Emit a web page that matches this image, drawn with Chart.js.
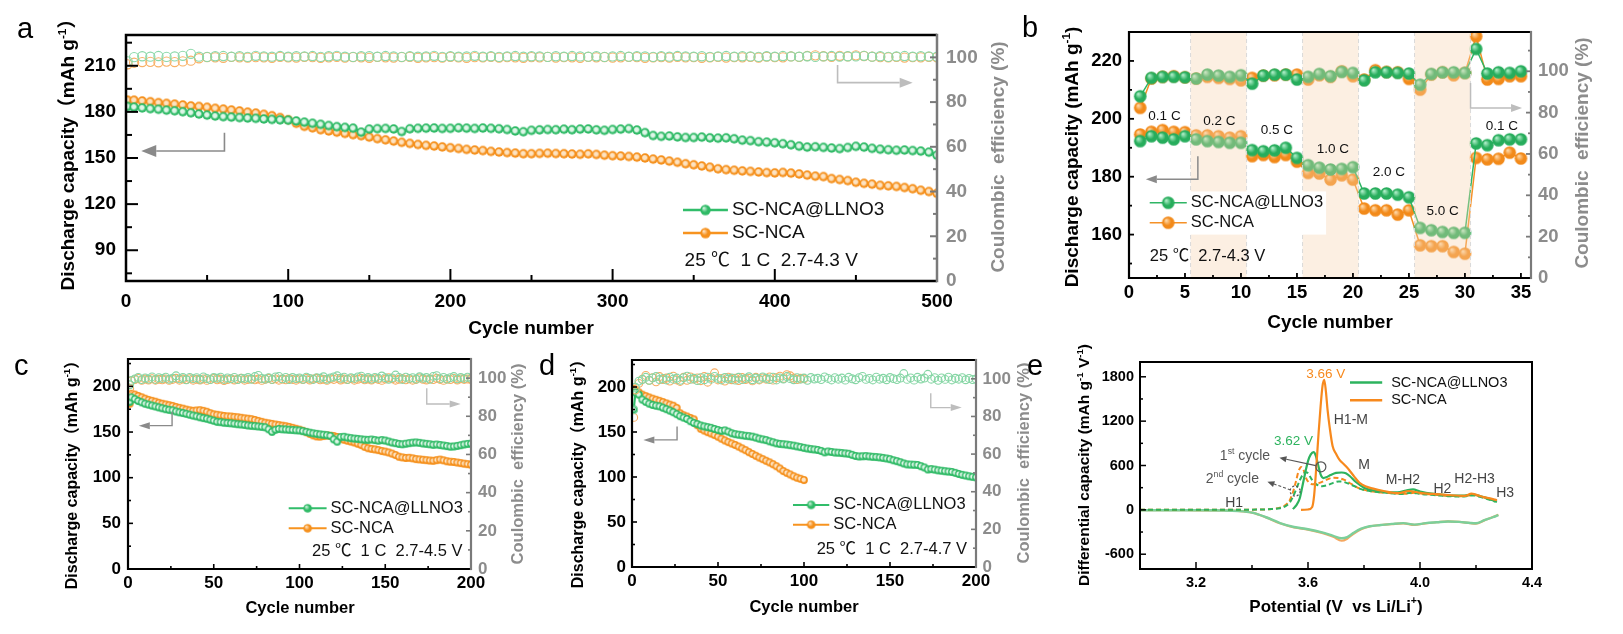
<!DOCTYPE html>
<html><head><meta charset="utf-8">
<script src="https://cdn.jsdelivr.net/npm/chart.js@4.4.1/dist/chart.umd.min.js"></script>
<style>
html,body{margin:0;padding:0;background:#fff;}
#wrap{position:relative;width:1623px;height:634px;overflow:hidden;background:#fff;}
canvas{position:absolute;}
</style></head><body><div id="wrap">
<canvas id="ca" width="1010" height="350" style="left:0px;top:0px"></canvas>
<canvas id="cb" width="588" height="350" style="left:1035px;top:0px"></canvas>
<canvas id="cc" width="540" height="294" style="left:0px;top:340px"></canvas>
<canvas id="cd" width="500" height="294" style="left:540px;top:340px"></canvas>
<canvas id="ce" width="583" height="294" style="left:1040px;top:340px"></canvas>
<canvas id="letters" width="1623" height="634" style="left:0px;top:0px;pointer-events:none"></canvas>
</div>
<script>
// ================= DATA =================
// ---- panel a : 500 cycles, 1 C, 2.7-4.3 V (sampled every 5 cycles) ----
const A_CYCLES = [1].concat(Array.from({length:100}, (_, i) => (i + 1) * 5));
const A_CAP_LLNO3 = [
183.5,183.1,182.6,182.1,181.7,181.1,180.7,180.1,179.4,178.6,
177.9,177.3,176.9,176.6,176.3,176.0,175.8,175.4,175.1,174.8,
174.6,174.1,173.3,172.6,171.9,171.1,170.4,169.9,169.4,166.8,
168.8,169.1,169.2,168.9,167.2,169.0,169.3,169.4,169.5,169.2,
169.3,169.6,169.4,169.2,169.5,169.3,169.0,168.5,167.6,167.1,
168.0,168.3,168.5,168.4,168.7,168.4,168.8,168.9,168.3,168.0,
168.5,168.8,169.1,168.2,166.5,164.6,164.1,164.3,163.7,163.3,
163.3,163.6,163.1,162.9,163.1,162.5,161.6,161.3,160.6,160.3,
159.9,159.3,158.6,157.7,157.1,157.3,156.9,156.5,156.1,156.8,
157.6,157.1,156.3,155.7,155.4,155.0,155.2,154.8,154.5,153.8,
151.8];
const A_CAP_NCA = [
187.6,187.6,187.1,186.6,186.0,185.5,185.0,184.5,183.9,183.5,
183.0,182.3,181.8,181.2,180.6,179.8,179.2,178.4,177.5,176.3,
174.9,172.6,170.6,169.6,168.4,167.6,166.8,166.0,165.2,164.5,
163.6,162.6,161.8,161.0,160.2,159.5,158.8,158.2,157.8,157.2,
156.7,156.2,155.6,155.2,154.8,154.3,153.9,153.5,153.2,152.8,
152.8,153.0,153.1,152.9,152.8,152.6,152.4,152.7,152.3,151.8,
151.5,151.3,151.0,150.6,150.0,149.3,148.7,148.0,147.2,146.3,
145.6,144.8,144.0,143.0,142.4,142.0,141.6,141.3,140.9,140.5,
140.3,140.6,140.2,139.6,138.9,138.2,137.9,136.6,136.0,135.3,
134.2,133.5,133.0,132.2,131.9,131.5,130.8,130.0,129.0,128.2,
127.0];
const A_CE_LLNO3 = [
98.2,100.1,100.5,100.3,100.6,100.2,100.4,100.7,101.6,100.3,
100.2,100.5,100.6,100.3,100.5,100.2,100.7,100.4,100.3,100.6,
100.3,100.5,100.4,100.6,100.2,100.5,100.7,100.3,100.2,100.5,
100.5,100.3,100.6,100.4,100.2,100.5,100.3,100.4,100.7,100.2,
100.5,100.3,100.4,100.7,100.3,100.5,100.2,100.4,100.6,100.3,
100.5,100.4,100.2,100.5,100.3,100.6,100.4,100.3,100.5,100.2,
100.4,100.6,100.3,100.5,100.4,100.2,100.5,100.3,100.6,100.4,
100.3,100.5,100.2,100.4,100.6,100.3,100.5,100.4,100.2,100.5,
100.3,100.6,100.4,100.3,100.5,100.2,100.4,100.6,100.3,100.5,
100.4,100.7,100.3,100.5,100.2,100.4,100.6,100.3,100.5,100.4,
100.3];
const A_CE_NCA = [
96.9,97.6,97.9,98.0,97.8,98.1,97.9,98.2,98.5,99.6,
100.1,100.0,99.8,100.2,100.0,99.9,100.1,100.0,99.8,100.2,
100.0,99.9,100.2,100.1,99.8,100.0,100.2,99.9,100.1,100.0,
99.8,100.2,100.0,99.9,100.1,100.2,99.8,100.0,100.1,99.9,
100.2,100.0,99.8,100.1,100.0,100.2,99.9,100.1,100.0,99.8,
100.1,100.0,100.2,99.9,100.1,100.0,99.8,100.2,100.0,100.1,
99.9,100.0,100.2,100.1,99.8,100.0,100.1,99.9,100.2,100.0,
100.1,99.8,100.0,100.2,99.9,100.1,100.0,100.2,99.9,100.3,
100.1,100.0,100.4,100.2,100.6,100.9,100.5,100.2,100.7,100.4,
100.9,100.6,100.3,100.1,100.0,100.2,99.9,100.1,100.0,100.2,
100.0];
const A_XTICKS = [0,100,200,300,400,500];
const A_YTICKS = [90,120,150,180,210];
const A_Y2TICKS = [0,20,40,60,80,100];

// ---- panel b : rate capability ----
const B_CYCLES = Array.from({length:35}, (_, i) => i + 1);
const B_CAP_LLNO3 = [192.3,194.0,193.5,192.9,194.0,192.9,192.3,192.0,191.7,191.7,189.2,188.8,189.1,190.0,186.5,184.0,183.1,182.5,182.7,183.3,174.2,174.2,174.2,173.8,172.9,162.3,161.5,160.9,160.6,160.6,191.5,190.9,192.6,192.9,192.9];
const B_CAP_NCA   = [194.6,195.5,196.1,195.5,195.4,194.3,194.3,194.0,193.5,194.0,187.1,187.5,186.8,187.5,185.2,181.3,181.1,179.0,180.5,179.0,169.0,168.4,168.4,166.9,168.4,156.3,156.0,156.0,154.0,153.4,186.5,186.0,186.2,188.3,186.3];
const B_CE_LLNO3  = [87.9,96.8,97.3,97.3,97.1,96.5,98.4,97.9,97.3,98.1,94.0,97.9,98.4,98.4,96.0,97.3,98.7,97.6,99.7,99.2,95.6,99.5,99.5,99.2,98.9,93.5,98.7,99.5,99.5,99.2,110.8,98.9,99.5,99.2,100.0];
const B_CE_NCA    = [82.3,96.5,97.3,97.6,97.1,96.5,97.3,96.8,96.3,95.6,96.8,97.9,98.1,98.4,98.4,96.0,98.1,97.3,100.0,97.6,96.0,100.5,99.7,99.5,96.3,91.1,98.4,99.5,98.1,99.2,116.9,96.0,96.3,97.6,97.6];
const B_RATES = ['0.1 C','0.2 C','0.5 C','1.0 C','2.0 C','5.0 C','0.1 C'];
const B_SHADE = [[5.5,10.5],[15.5,20.5],[25.5,30.5]];
const B_XTICKS = [0,5,10,15,20,25,30,35];
const B_YTICKS = [160,180,200,220];
const B_Y2TICKS = [0,20,40,60,80,100];

// ---- panel c : 200 cycles, 2.7-4.5 V (every 2 cycles) ----
const C_CYCLES = [1].concat(Array.from({length:100}, (_, i) => (i + 1) * 2));
const C_CAP_LLNO3 = [
183,188,186,184,182.5,181,180,179,178,177,
176,175,174.3,173.8,172.5,171.6,170.8,170,169,168,
167.2,166.2,165.3,164.6,163.5,162.4,161.2,160.8,160.2,159.9,
159.6,159.1,158.6,158.3,157.8,157.2,156.8,156.5,156.1,155.7,
155.2,153.0,150.2,152.5,153.4,153.0,152.8,152.5,152.2,151.9,
151.7,151.0,150.2,149.3,148.6,148.0,147.4,147.0,146.5,145.8,
142.0,139.5,144.5,144.8,143.9,143.3,142.8,142.5,142.0,141.6,
141.4,141.8,141.2,140.6,141.2,140.7,139.6,138.5,137.8,137.0,
136.6,137.2,137.8,138.4,138.6,138.2,137.5,137.1,136.6,136.0,
136.3,135.8,135.2,134.6,134.0,134.2,134.8,135.6,136.4,137.0,
137.2];
const C_CAP_NCA = [
181,192,191,189.5,188,186.5,185.2,184.2,183.2,182,
181,180.2,179.4,178.6,177.4,176.5,175.6,174.6,173.8,173.2,
173.6,173.9,173.2,172.2,170.6,169.4,168.9,168.2,167.6,167.2,
167.0,166.6,166.2,165.6,165.0,164.6,164.1,163.2,162.2,161.2,
160.2,159.5,158.9,158.2,157.6,157.0,156.4,155.6,154.6,153.6,
152.6,151.4,149.8,148.0,146.4,145.2,145.0,145.6,146.2,146.0,
145.6,144.6,143.0,141.6,140.5,139.6,138.6,137.2,135.8,133.8,
132.3,131.5,131.0,130.2,129.2,128.6,127.6,126.4,124.8,123.0,
122.2,121.6,121.8,121.2,120.4,120.0,119.6,119.2,118.8,118.5,
119.2,119.8,119.0,118.0,117.5,117.2,116.6,116.0,115.4,114.8,
114.3];
const C_CE_LLNO3 = [
96.5,98.8,99.6,100.4,99.2,100.1,99.5,100.6,99.3,100.2,
99.8,100.5,99.4,100.0,101.2,99.6,100.3,99.1,100.4,99.7,
100.2,99.4,100.6,99.8,99.2,100.3,99.9,100.5,99.3,100.1,
99.6,100.4,99.2,100.0,99.7,100.3,99.4,100.8,101.4,99.8,
99.5,100.2,99.3,100.6,100.9,99.6,100.4,99.2,100.3,99.7,
100.1,99.4,100.5,99.8,99.3,100.2,99.9,100.7,99.4,100.1,
100.6,101.2,99.9,100.5,99.3,100.2,99.8,100.6,101.0,99.6,
100.3,99.5,100.4,99.9,101.1,100.2,99.4,100.1,101.6,100.4,
99.3,100.5,99.8,100.2,99.5,100.7,99.9,100.3,99.4,100.9,
101.3,99.7,100.4,99.5,100.2,100.8,99.6,100.3,99.8,100.5,
99.9];
const C_CE_NCA = [
94.5,98.5,99.2,99.8,98.8,99.5,99.0,99.7,98.9,99.4,
99.1,99.6,98.8,99.3,99.9,98.9,99.5,99.2,99.7,98.9,
99.4,99.0,99.6,98.8,99.3,99.8,99.1,99.5,98.7,99.2,
99.7,99.0,99.4,99.9,98.9,99.3,99.6,99.1,99.5,98.8,
99.4,99.9,99.2,99.6,98.9,99.5,99.1,99.8,99.3,98.9,
99.6,99.2,99.8,99.0,99.5,99.9,99.1,99.4,98.8,99.6,
99.3,99.8,99.0,99.5,99.2,99.7,98.9,99.4,99.9,99.1,
99.5,99.0,99.7,99.3,98.8,99.5,100.2,99.6,98.9,99.4,
99.8,99.1,99.6,98.9,99.3,100.1,99.4,99.0,99.7,99.2,
99.9,99.3,98.8,99.5,99.2,99.8,99.0,99.6,99.3,99.5,
99.2];
const CD_XTICKS = [0,50,100,150,200];
const CD_YTICKS = [0,50,100,150,200];
const CD_Y2TICKS = [0,20,40,60,80,100];

// ---- panel d : 200 cycles, 2.7-4.7 V (every 2 cycles) ----
const D_CYCLES = [1].concat(Array.from({length:100}, (_, i) => (i + 1) * 2));
const D_CAP_LLNO3 = [
175,194,191.5,186,183.5,181.5,180,179.2,178.5,177,
175.4,173.8,172,169.8,167.6,166,164.5,162,160,158.8,
157.2,156.2,155.4,154.6,153.4,152.2,151.2,151.8,150.4,148.6,
147.6,147.0,146.4,145.8,145.4,144.8,143.8,142.6,141.8,141.0,
139.6,138.6,137.4,136.8,136.4,136.0,135.4,134.8,134.0,133.2,
132.4,131.6,131.0,130.6,130.0,129.0,127.4,128.4,127.8,127.2,
127.0,126.6,126.2,125.8,124.6,123.4,122.8,123.0,123.2,122.8,
122.4,122.2,121.8,121.2,120.6,119.8,118.6,117.6,116.4,115.0,
114.0,113.8,113.6,113.4,112.0,110.6,108.4,108.8,108.2,107.4,
107.0,106.4,106.0,105.6,104.6,103.4,102.4,101.6,100.8,100.2,
99.6];
const D_CAP_NCA = [
198,197,194,191.5,189.8,188.4,187,185.8,184.6,183.2,
181.8,180.4,179.2,176.8,170.8,168.6,167.2,165.6,164.0,157.6,
153.6,151.6,149.8,148.4,146.6,144.8,142.6,140.6,138.8,137.2,
135.6,133.8,131.8,129.8,127.6,125.6,123.6,121.6,119.8,118.0,
116.2,114.2,112.0,109.4,106.6,104.6,102.8,100.8,99.2,98.0,
96.6];
const D_CE_LLNO3 = [
83.5,95.5,98.8,99.6,100.8,99.2,100.5,101.2,99.6,100.2,
99.4,100.9,99.8,100.4,99.2,100.6,101.4,99.7,100.3,99.1,
100.6,99.5,100.9,99.8,101.3,100.2,99.4,100.7,99.9,100.4,
99.3,100.8,99.6,100.2,101.1,99.5,100.4,99.8,101.0,100.3,
99.6,100.9,99.4,100.5,99.9,101.2,100.1,99.5,100.6,99.8,
100.4,99.2,100.7,99.9,100.3,99.6,101.0,100.2,99.4,100.6,
99.8,100.4,99.3,100.8,100.0,99.5,100.6,101.3,99.7,100.2,
99.4,100.9,99.8,100.3,99.5,100.7,100.1,99.6,100.4,102.8,
99.7,100.5,99.3,100.8,99.9,100.4,102.4,99.8,100.6,99.2,
100.5,99.7,100.9,99.4,100.3,99.8,100.6,99.5,100.2,99.6,
99.9];
const D_CE_NCA = [
79.5,94.0,97.6,99.8,101.8,99.2,100.6,98.4,101.2,99.6,
100.4,98.8,101.4,99.4,98.6,100.8,99.2,101.0,99.8,100.5,
99.0,101.2,98.2,100.6,103.2,99.4,100.2,98.8,100.9,99.5,
100.3,99.1,100.7,99.6,100.2,98.9,100.8,99.4,100.5,99.8,
101.0,99.3,100.6,101.4,100.2,102.2,101.6,100.4,99.6,100.3,
100.0];

// ---- panel e : dQ/dV ----
const E_V_CH1_NCA = [3.575,3.600,3.615,3.622,3.630,3.638,3.645,3.652,3.658,3.664,3.670,3.678,3.688,3.700,3.712,3.730,3.747,3.765,3.783,3.805,3.830,3.870,3.924,3.960,4.000,4.043,4.100,4.161,4.184,4.220,4.250,4.275];
const E_Q_CH1_NCA = [0,5,40,200,600,1050,1400,1680,1760,1600,1350,1100,860,760,680,610,540,450,370,320,290,255,225,255,230,215,200,190,220,180,155,130];
const E_V_CH1_LLNO3 = [3.546,3.558,3.570,3.580,3.590,3.600,3.610,3.620,3.628,3.636,3.645,3.655,3.665,3.680,3.700,3.720,3.735,3.750,3.770,3.800,3.830,3.870,3.920,3.950,3.975,4.000,4.050,4.100,4.150,4.190,4.220,4.250,4.275];
const E_Q_CH1_LLNO3 = [10,60,150,320,500,660,750,780,730,610,480,430,440,470,500,505,495,455,380,300,265,245,238,262,278,248,215,196,192,208,180,145,108];
const E_V_CH2_NCA = [3.0,3.2,3.4,3.47,3.50,3.52,3.534,3.546,3.558,3.566,3.576,3.585,3.593,3.605,3.620,3.641,3.665,3.688,3.710,3.730,3.755,3.783,3.810,3.850,3.900,3.950,3.980,4.010,4.050,4.100,4.150,4.190,4.220,4.270];
const E_Q_CH2_NCA = [0,0,3,12,30,65,125,235,400,520,580,530,430,365,345,365,405,435,430,405,350,290,262,240,225,218,232,218,205,190,185,200,175,120];
const E_V_CH2_LLNO3 = [3.0,3.2,3.4,3.47,3.50,3.52,3.535,3.548,3.560,3.572,3.582,3.592,3.600,3.612,3.630,3.650,3.670,3.690,3.710,3.730,3.760,3.790,3.830,3.880,3.930,3.970,4.000,4.050,4.100,4.150,4.190,4.220,4.270];
const E_Q_CH2_LLNO3 = [0,0,3,10,22,50,100,190,300,410,480,510,495,420,345,320,335,365,385,375,330,280,250,230,215,232,215,200,185,180,195,170,110];
const E_V_DIS = [3.0,3.1,3.2,3.3,3.35,3.4,3.45,3.5,3.55,3.6,3.65,3.69,3.72,3.74,3.76,3.79,3.82,3.86,3.9,3.94,3.98,4.02,4.06,4.1,4.14,4.18,4.2,4.23,4.26,4.28];
const E_Q_DIS_LLNO3 = [-5,-5,-6,-8,-15,-38,-100,-178,-232,-262,-305,-352,-385,-368,-318,-255,-222,-205,-190,-180,-200,-180,-168,-157,-163,-178,-182,-140,-100,-70];
const E_Q_DIS_NCA = [-5,-5,-6,-8,-15,-38,-102,-182,-238,-268,-312,-365,-418,-390,-330,-262,-225,-205,-192,-182,-204,-182,-168,-156,-163,-180,-186,-142,-98,-65];
const E_XTICKS = [3.2,3.6,4.0,4.4];
const E_YTICKS = [-600,0,600,1200,1800];

const SERIES = ['SC-NCA@LLNO3','SC-NCA'];

// ================= STYLE / HELPERS =================
const FONT = '"Liberation Sans", Arial, "Noto Sans CJK SC", sans-serif';
const GREEN = '#31bd6a', ORANGE = '#f7931f', GRAY = '#8c8c8c', LGRAY = '#bdbdbd';
const E_GREEN = '#2db35e', E_ORANGE = '#f7891d', E_GREEN_D = '#7ccf9a', E_ORANGE_D = '#f5a760';

function ring(r, base, hi) {
  const s = Math.ceil(r * 2) + 2, c = document.createElement('canvas');
  c.width = c.height = s;
  const g = c.getContext('2d'), m = s / 2;
  const gr = g.createRadialGradient(m - r * 0.15, m - r * 0.15, 0, m, m, r);
  gr.addColorStop(0, hi); gr.addColorStop(0.4, hi); gr.addColorStop(0.72, base); gr.addColorStop(1, base);
  g.fillStyle = gr; g.beginPath(); g.arc(m, m, r, 0, Math.PI * 2); g.fill();
  return c;
}
function ball(r, base, hi) {
  const s = Math.ceil(r * 2) + 2, c = document.createElement('canvas');
  c.width = c.height = s;
  const g = c.getContext('2d'), m = s / 2;
  const gr = g.createRadialGradient(m - r * 0.35, m - r * 0.4, r * 0.05, m, m, r);
  gr.addColorStop(0, hi); gr.addColorStop(0.6, base); gr.addColorStop(1, base);
  g.fillStyle = gr; g.beginPath(); g.arc(m, m, r, 0, Math.PI * 2); g.fill();
  return c;
}
const zip = (xs, ys) => ys.map((y, i) => ({x: xs[i], y}));

function parseRich(s) {
  const out = []; const re = /\^\{([^}]*)\}/g; let last = 0, m;
  while ((m = re.exec(s))) { if (m.index > last) out.push({t: s.slice(last, m.index)}); out.push({t: m[1], sup: true}); last = re.lastIndex; }
  if (last < s.length) out.push({t: s.slice(last)});
  return out;
}
function drawText(ctx, s, x, y, o) {
  const size = o.size || 16, weight = o.weight || 'normal', color = o.color || '#000';
  const parts = parseRich(s);
  ctx.save(); ctx.translate(x, y); if (o.rot) ctx.rotate(o.rot);
  ctx.fillStyle = color; ctx.textBaseline = 'middle'; ctx.textAlign = 'left';
  let total = 0;
  const ws = parts.map(p => { ctx.font = weight + ' ' + (p.sup ? size * 0.62 : size) + 'px ' + FONT; const w = ctx.measureText(p.t).width; total += w; return w; });
  let cx = o.align === 'left' ? 0 : o.align === 'right' ? -total : -total / 2;
  parts.forEach((p, i) => { ctx.font = weight + ' ' + (p.sup ? size * 0.62 : size) + 'px ' + FONT; ctx.fillText(p.t, cx, p.sup ? -size * 0.33 : 0); cx += ws[i]; });
  ctx.restore();
}
function arrow(ctx, pts, color, lw, hl, hw, dash) {
  ctx.save(); ctx.strokeStyle = color; ctx.fillStyle = color; ctx.lineWidth = lw;
  const n = pts.length, tip = pts[n - 1], prev = pts[n - 2];
  const dx = tip[0] - prev[0], dy = tip[1] - prev[1], L = Math.hypot(dx, dy) || 1, ux = dx / L, uy = dy / L;
  const bx = tip[0] - ux * hl, by = tip[1] - uy * hl;
  if (dash) ctx.setLineDash(dash);
  ctx.beginPath(); ctx.moveTo(pts[0][0], pts[0][1]);
  for (let i = 1; i < n - 1; i++) ctx.lineTo(pts[i][0], pts[i][1]);
  ctx.lineTo(bx, by); ctx.stroke(); ctx.setLineDash([]);
  ctx.beginPath(); ctx.moveTo(tip[0], tip[1]); ctx.lineTo(bx - uy * hw, by + ux * hw); ctx.lineTo(bx + uy * hw, by - ux * hw); ctx.closePath(); ctx.fill();
  ctx.restore();
}
function dp(ch, x, y, yid) { return [ch.scales.x.getPixelForValue(x), ch.scales[yid || 'y'].getPixelForValue(y)]; }
function legendRow(ctx, p1, p2, color, img, text, size, gap, lw) {
  ctx.save(); ctx.strokeStyle = color; ctx.lineWidth = lw || 2.5;
  ctx.beginPath(); ctx.moveTo(p1[0], p1[1]); ctx.lineTo(p2[0], p2[1]); ctx.stroke();
  if (img) ctx.drawImage(img, (p1[0] + p2[0]) / 2 - img.width / 2, p1[1] - img.height / 2);
  ctx.restore();
  drawText(ctx, text, p2[0] + gap, p1[1], {size, align: 'left', color: '#111'});
}
function minorOf(maj, min, max) {
  if (maj.length < 2) return [];
  const st = maj[1] - maj[0], out = [];
  maj.forEach(v => out.push(v - st / 2)); out.push(maj[maj.length - 1] + st / 2);
  return out.filter(v => v > min + 1e-9 && v < max - 1e-9);
}
function drawFrame(ch, F) {
  const ctx = ch.ctx, ca = ch.chartArea;
  ctx.save(); ctx.lineCap = 'butt';
  F.axes.forEach(ax => {
    const s = ch.scales[ax.id]; if (!s) return;
    ctx.strokeStyle = ax.color; ctx.lineWidth = F.tw;
    const tk = (v, len) => { const p = s.getPixelForValue(v); ctx.beginPath();
      if (ax.side === 'bottom') { ctx.moveTo(p, ca.bottom); ctx.lineTo(p, ca.bottom - len); }
      else if (ax.side === 'left') { ctx.moveTo(ca.left, p); ctx.lineTo(ca.left + len, p); }
      else { ctx.moveTo(ca.right, p); ctx.lineTo(ca.right - len, p); }
      ctx.stroke(); };
    const maj = s.ticks.map(t => t.value);
    maj.forEach(v => tk(v, ax.major));
    minorOf(maj, s.min, s.max).forEach(v => tk(v, ax.minor));
  });
  ctx.lineWidth = F.lw; ctx.strokeStyle = '#000';
  ctx.beginPath(); ctx.moveTo(ca.right, ca.top); ctx.lineTo(ca.left, ca.top); ctx.lineTo(ca.left, ca.bottom); ctx.lineTo(ca.right, ca.bottom); ctx.stroke();
  ctx.strokeStyle = F.rightColor || '#000';
  ctx.beginPath(); ctx.moveTo(ca.right, ca.top - F.lw / 2); ctx.lineTo(ca.right, ca.bottom + F.lw / 2); ctx.stroke();
  ctx.restore();
}
function scl(position, c) {
  return { type: 'linear', position, min: c.min, max: c.max,
    grid: {display: false, drawTicks: false}, border: {display: false},
    afterBuildTicks: s => { s.ticks = c.ticks.map(v => ({value: v})); },
    afterFit: s => { if (position === 'bottom') s.height = c.fit; else s.width = c.fit; },
    ticks: { autoSkip: false, maxRotation: 0, minRotation: 0, padding: c.pad, color: c.color || '#000',
      font: {family: FONT, size: c.size, weight: 'bold'}, callback: c.fmt || (v => String(v)) } };
}
function opts(o) {
  const scales = { x: scl('bottom', o.x), y: scl('left', o.y) };
  if (o.y2) scales.y2 = scl('right', o.y2);
  return { responsive: false, maintainAspectRatio: false, animation: false, devicePixelRatio: 1, events: [],
    layout: {padding: {top: o.top, right: o.padRight || 0, left: 0, bottom: 0}},
    plugins: {legend: {display: false}, tooltip: {enabled: false}}, scales };
}
function makePanel(id, off, cfg) {
  const plugin = { id: 'deco_' + id,
    afterDatasetsDraw(ch) { if (cfg.afterData) cfg.afterData(ch); },
    afterDraw(ch) {
      drawFrame(ch, cfg.frame);
      (cfg.titles || []).forEach(t => drawText(ch.ctx, t.s, t.x - off[0], t.y - off[1], t));
      if (cfg.annot) cfg.annot(ch);
    } };
  return new Chart(document.getElementById(id), { type: 'line', data: {datasets: cfg.datasets}, options: cfg.options, plugins: [plugin] });
}
const ceSet = (xs, ys, col, r) => ({data: zip(xs, ys), yAxisID: 'y2', showLine: false, pointStyle: 'circle', pointRadius: r, pointBorderWidth: 1.1, pointBorderColor: col, pointBackgroundColor: 'rgba(255,255,255,0)'});
const capSet = (xs, ys, col, img, lw) => ({data: zip(xs, ys), yAxisID: 'y', borderColor: col, borderWidth: lw, pointStyle: img, pointRadius: 4, tension: 0});
const UP = -Math.PI / 2;
const TITLE_CAP_FW = 'Discharge capacity（mAh g^{-1}）';
const TITLE_CE = 'Coulombic  efficiency (%)';
const TITLE_CYC = 'Cycle number';

// ================= PANEL A =================
const ringGa = ring(4.7, '#2fba66', '#dff6e8'), ringOa = ring(4.7, '#f5901c', '#fde3c2');
const legGa = ball(5.2, '#2fba66', '#d6f5e3'), legOa = ball(5.2, '#f5901c', '#ffe6c9');
makePanel('ca', [0, 0], {
  datasets: [
    ceSet(A_CYCLES, A_CE_LLNO3, '#8bd8a9', 4.6),
    ceSet(A_CYCLES, A_CE_NCA, '#f8b064', 4.6),
    capSet(A_CYCLES, A_CAP_LLNO3, GREEN, ringGa, 3),
    capSet(A_CYCLES, A_CAP_NCA, ORANGE, ringOa, 3)
  ],
  options: opts({top: 35,
    x: {min: 0, max: 500, ticks: A_XTICKS, fit: 69, pad: 9, size: 19},
    y: {min: 70, max: 230, ticks: A_YTICKS, fit: 126, pad: 10, size: 19},
    y2: {min: 0, max: 110, ticks: A_Y2TICKS, fit: 73, pad: 9, size: 19, color: GRAY}}),
  frame: {lw: 2.5, tw: 2, rightColor: '#7a7a7a', axes: [
    {id: 'x', side: 'bottom', major: 12, minor: 6, color: '#000'},
    {id: 'y', side: 'left', major: 12, minor: 6, color: '#000'},
    {id: 'y2', side: 'right', major: 7, minor: 4, color: '#7a7a7a'}]},
  titles: [
    {s: TITLE_CAP_FW, x: 69, y: 150, size: 19, weight: 'bold', rot: UP},
    {s: TITLE_CE, x: 999, y: 157, size: 19, weight: 'bold', rot: UP, color: GRAY},
    {s: TITLE_CYC, x: 531, y: 329, size: 19, weight: 'bold'}],
  annot(ch) {
    const ctx = ch.ctx;
    arrow(ctx, [dp(ch, 60.7, 166.5), dp(ch, 60.7, 154.6), dp(ch, 9.4, 154.6)], '#8a8a8a', 1.6, 15, 6);
    arrow(ctx, [dp(ch, 438.7, 96.6, 'y2'), dp(ch, 438.7, 88.7, 'y2'), dp(ch, 485, 88.7, 'y2')], LGRAY, 1.6, 13, 5);
    legendRow(ctx, dp(ch, 343.4, 116.2), dp(ch, 371.1, 116.2), GREEN, legGa, SERIES[0], 19, 4, 2.5);
    legendRow(ctx, dp(ch, 343.4, 101.2), dp(ch, 371.1, 101.2), ORANGE, legOa, SERIES[1], 19, 4, 2.5);
    const p = dp(ch, 344.4, 83); drawText(ctx, '25 ℃  1 C  2.7-4.3 V', p[0], p[1], {size: 19, align: 'left', color: '#111'});
  }
});

// ================= PANEL B =================
const ballGb = ball(6.3, '#27ad5c', '#b4f0cc'), ballOb = ball(6.3, '#f28a1a', '#ffdcae');
makePanel('cb', [1035, 0], {
  datasets: [
    {data: zip(B_CYCLES, B_CE_LLNO3), yAxisID: 'y2', borderColor: '#2fb565', borderWidth: 1.5, pointStyle: ballGb, pointRadius: 5},
    {data: zip(B_CYCLES, B_CE_NCA), yAxisID: 'y2', borderColor: '#f59127', borderWidth: 1.5, pointStyle: ballOb, pointRadius: 5},
    {data: zip(B_CYCLES, B_CAP_LLNO3), yAxisID: 'y', borderColor: '#2fb565', borderWidth: 1.5, pointStyle: ballGb, pointRadius: 5},
    {data: zip(B_CYCLES, B_CAP_NCA), yAxisID: 'y', borderColor: '#f59127', borderWidth: 1.5, pointStyle: ballOb, pointRadius: 5}
  ],
  options: opts({top: 32,
    x: {min: 0, max: 35.9, ticks: B_XTICKS, fit: 72, pad: 4, size: 18.5},
    y: {min: 145, max: 230, ticks: B_YTICKS, fit: 94, pad: 7, size: 18.5},
    y2: {min: 0, max: 119, ticks: B_Y2TICKS, fit: 92, pad: 7, size: 18.5, color: GRAY}}),
  frame: {lw: 2.2, tw: 1.8, rightColor: '#7a7a7a', axes: [
    {id: 'x', side: 'bottom', major: 5, minor: 3, color: '#000'},
    {id: 'y', side: 'left', major: 5, minor: 3, color: '#000'},
    {id: 'y2', side: 'right', major: 5, minor: 3, color: '#7a7a7a'}]},
  titles: [
    {s: 'Discharge capacity (mAh g^{-1})', x: 1073, y: 157, size: 19, weight: 'bold', rot: UP},
    {s: TITLE_CE, x: 1583, y: 153, size: 19, weight: 'bold', rot: UP, color: GRAY},
    {s: TITLE_CYC, x: 1330, y: 323, size: 19, weight: 'bold'}],
  afterData(ch) {
    const ctx = ch.ctx, ca = ch.chartArea, xs = ch.scales.x;
    ctx.save();
    B_SHADE.forEach(([a, b]) => {
      const x1 = xs.getPixelForValue(a), x2 = xs.getPixelForValue(b);
      ctx.fillStyle = 'rgba(248,212,176,0.36)'; ctx.fillRect(x1, ca.top, x2 - x1, ca.bottom - ca.top);
      ctx.strokeStyle = '#d9d9d9'; ctx.lineWidth = 1; ctx.setLineDash([4, 3]);
      [x1, x2].forEach(x => { ctx.beginPath(); ctx.moveTo(x, ca.top); ctx.lineTo(x, ca.bottom); ctx.stroke(); });
      ctx.setLineDash([]);
    });
    const p1 = dp(ch, 1.34, 174.9), p2 = dp(ch, 17.6, 160);
    ctx.fillStyle = '#fff'; ctx.fillRect(p1[0], p1[1], p2[0] - p1[0], p2[1] - p1[1]);
    ctx.restore();
    legendRow(ctx, dp(ch, 1.85, 171), dp(ch, 5.16, 171), '#2fb565', ballGb, SERIES[0], 16.5, 4, 1.6);
    legendRow(ctx, dp(ch, 1.85, 164.1), dp(ch, 5.16, 164.1), '#f59127', ballOb, SERIES[1], 16.5, 4, 1.6);
  },
  annot(ch) {
    const ctx = ch.ctx;
    const pos = [[3.17, 201], [8.08, 199.2], [13.2, 196], [18.2, 189.4], [23.2, 181.4], [28.0, 168.1], [33.3, 197.5]];
    B_RATES.forEach((t, i) => { const p = dp(ch, pos[i][0], pos[i][1]); drawText(ctx, t, p[0], p[1], {size: 13.5, color: '#111'}); });
    arrow(ctx, [dp(ch, 6.15, 187.1), dp(ch, 6.15, 179.1), dp(ch, 1.5, 179.1)], '#8a8a8a', 1.5, 11, 4);
    arrow(ctx, [dp(ch, 30.5, 94.3, 'y2'), dp(ch, 30.5, 82.2, 'y2'), dp(ch, 35.1, 82.2, 'y2')], LGRAY, 1.5, 11, 4);
    const p = dp(ch, 1.85, 152.5); drawText(ctx, '25 ℃  2.7-4.3 V', p[0], p[1], {size: 16.5, align: 'left', color: '#111'});
  }
});

// ================= PANEL C / D =================
const ringGc = ring(3.9, '#2fba66', '#dff6e8'), ringOc = ring(3.9, '#f5901c', '#fde3c2');
const legGc = ball(4.3, '#2fba66', '#d6f5e3'), legOc = ball(4.3, '#f5901c', '#ffe6c9');
function cdFrame() {
  return {lw: 2.2, tw: 1.6, rightColor: '#7a7a7a', axes: [
    {id: 'x', side: 'bottom', major: 5, minor: 3, color: '#000'},
    {id: 'y', side: 'left', major: 5, minor: 3, color: '#000'},
    {id: 'y2', side: 'right', major: 5, minor: 3, color: '#7a7a7a'}]};
}
makePanel('cc', [0, 340], {
  datasets: [
    ceSet(C_CYCLES, C_CE_LLNO3, '#86d6a5', 3.9),
    ceSet(C_CYCLES, C_CE_NCA, '#f8ad62', 3.9),
    capSet(C_CYCLES, C_CAP_LLNO3, GREEN, ringGc, 2.2),
    capSet(C_CYCLES, C_CAP_NCA, ORANGE, ringOc, 2.2)
  ],
  options: opts({top: 19,
    x: {min: 0, max: 200, ticks: CD_XTICKS, fit: 65, pad: 4, size: 17},
    y: {min: 0, max: 230, ticks: CD_YTICKS, fit: 128, pad: 7, size: 17},
    y2: {min: 0, max: 110, ticks: CD_Y2TICKS, fit: 69, pad: 7, size: 17, color: GRAY}}),
  frame: cdFrame(),
  titles: [
    {s: TITLE_CAP_FW, x: 73, y: 471, size: 16, weight: 'bold', rot: UP},
    {s: TITLE_CE, x: 518, y: 464, size: 16.5, weight: 'bold', rot: UP, color: GRAY},
    {s: TITLE_CYC, x: 300, y: 608, size: 16.5, weight: 'bold'}],
  annot(ch) {
    const ctx = ch.ctx;
    arrow(ctx, [dp(ch, 25.7, 172.3), dp(ch, 25.7, 157), dp(ch, 6.3, 157)], '#8a8a8a', 1.4, 11, 3.5);
    arrow(ctx, [dp(ch, 174.2, 94.7, 'y2'), dp(ch, 174.2, 86.4, 'y2'), dp(ch, 194, 86.4, 'y2')], LGRAY, 1.4, 11, 3.5);
    legendRow(ctx, dp(ch, 93.7, 66.5), dp(ch, 115.8, 66.5), GREEN, legGc, SERIES[0], 16.5, 4, 2);
    legendRow(ctx, dp(ch, 93.7, 44.6), dp(ch, 115.8, 44.6), ORANGE, legOc, SERIES[1], 16.5, 4, 2);
    const p = dp(ch, 195, 18.9); drawText(ctx, '25 ℃  1 C  2.7-4.5 V', p[0], p[1], {size: 16.5, align: 'right', color: '#111'});
  }
});
makePanel('cd', [540, 340], {
  datasets: [
    ceSet(D_CYCLES, D_CE_LLNO3, '#86d6a5', 3.9),
    ceSet(D_CYCLES, D_CE_NCA, '#f8ad62', 3.9),
    capSet(D_CYCLES, D_CAP_LLNO3, GREEN, ringGc, 2.2),
    capSet(D_CYCLES, D_CAP_NCA, ORANGE, ringOc, 2.2)
  ],
  options: opts({top: 20,
    x: {min: 0, max: 200, ticks: CD_XTICKS, fit: 67, pad: 4, size: 17},
    y: {min: 0, max: 230, ticks: CD_YTICKS, fit: 92, pad: 6, size: 17},
    y2: {min: 0, max: 110, ticks: CD_Y2TICKS, fit: 64, pad: 6.5, size: 17, color: GRAY}}),
  frame: cdFrame(),
  titles: [
    {s: TITLE_CAP_FW, x: 579, y: 470, size: 16, weight: 'bold', rot: UP},
    {s: TITLE_CE, x: 1024, y: 463, size: 16.5, weight: 'bold', rot: UP, color: GRAY},
    {s: TITLE_CYC, x: 804, y: 607, size: 16.5, weight: 'bold'}],
  annot(ch) {
    const ctx = ch.ctx;
    arrow(ctx, [dp(ch, 26.2, 156), dp(ch, 26.2, 141.2), dp(ch, 6.6, 141.2)], '#8a8a8a', 1.4, 11, 3.5);
    arrow(ctx, [dp(ch, 173.7, 92.3, 'y2'), dp(ch, 173.7, 84.7, 'y2'), dp(ch, 191.7, 84.7, 'y2')], LGRAY, 1.4, 11, 3.5);
    legendRow(ctx, dp(ch, 93.6, 69), dp(ch, 114.7, 69), GREEN, legGc, SERIES[0], 16.5, 4, 2);
    legendRow(ctx, dp(ch, 93.6, 47), dp(ch, 114.7, 47), ORANGE, legOc, SERIES[1], 16.5, 4, 2);
    const p = dp(ch, 194.8, 19.2); drawText(ctx, '25 ℃  1 C  2.7-4.7 V', p[0], p[1], {size: 16.5, align: 'right', color: '#111'});
  }
});

// ================= PANEL E =================
const eLine = (xs, ys, col, w, dash) => ({data: zip(xs, ys), yAxisID: 'y', borderColor: col, borderWidth: w, borderDash: dash || [], pointRadius: 0, cubicInterpolationMode: 'monotone', fill: false});
makePanel('ce', [1040, 340], {
  datasets: [
    eLine(E_V_CH1_NCA, E_Q_CH1_NCA, E_ORANGE, 2.2),
    eLine(E_V_CH1_LLNO3, E_Q_CH1_LLNO3, E_GREEN, 2.2),
    eLine(E_V_CH2_LLNO3, E_Q_CH2_LLNO3, E_GREEN, 2, [5, 3]),
    eLine(E_V_CH2_NCA, E_Q_CH2_NCA, E_ORANGE, 2, [5, 3]),
    eLine(E_V_DIS, E_Q_DIS_LLNO3, E_GREEN_D, 2.4),
    eLine(E_V_DIS, E_Q_DIS_NCA, E_ORANGE_D, 2.2)
  ],
  options: opts({top: 22, padRight: 91,
    x: {min: 3.0, max: 4.4, ticks: E_XTICKS, fit: 65, pad: 5, size: 14.5, fmt: v => v.toFixed(1)},
    y: {min: -800, max: 2000, ticks: E_YTICKS, fit: 100, pad: 6, size: 14.5}}),
  frame: {lw: 2, tw: 1.5, rightColor: '#000', axes: [
    {id: 'x', side: 'bottom', major: 7, minor: 4, color: '#000'},
    {id: 'y', side: 'left', major: 6, minor: 3, color: '#000'}]},
  titles: [
    {s: 'Differential capacity (mAh g^{-1} V^{-1})', x: 1085, y: 465, size: 15.5, weight: 'bold', rot: UP},
    {s: 'Potential (V  vs Li/Li^{+})', x: 1336, y: 607, size: 17, weight: 'bold'}],
  annot(ch) {
    const ctx = ch.ctx;
    const T = (s, x, y, col, size) => { const p = dp(ch, x, y); drawText(ctx, s, p[0], p[1], {size: size || 14, color: col || '#444'}); };
    T('3.66 V', 3.663, 1830, E_ORANGE, 13.5);
    T('3.62 V', 3.548, 929, E_GREEN, 13.5);
    T('H1-M', 3.753, 1213); T('M', 3.80, 605); T('M-H2', 3.939, 402); T('H2', 4.08, 277);
    T('H2-H3', 4.195, 416); T('H3', 4.304, 231); T('H1', 3.336, 88);
    T('1^{st} cycle', 3.375, 727, '#555'); T('2^{nd} cycle', 3.33, 416, '#555');
    ctx.save(); ctx.strokeStyle = '#555'; ctx.lineWidth = 1.2;
    let c = dp(ch, 3.646, 582); ctx.beginPath(); ctx.arc(c[0], c[1], 5, 0, Math.PI * 2); ctx.stroke();
    c = dp(ch, 3.554, 254); ctx.setLineDash([2, 2]); ctx.beginPath(); ctx.arc(c[0], c[1], 5, 0, Math.PI * 2); ctx.stroke();
    ctx.restore();
    arrow(ctx, [dp(ch, 3.628, 598), dp(ch, 3.498, 704)], '#555', 1.1, 7, 3);
    arrow(ctx, [dp(ch, 3.538, 270), dp(ch, 3.455, 380)], '#555', 1.1, 7, 3, [3, 2]);
    legendRow(ctx, dp(ch, 3.75, 1722), dp(ch, 3.865, 1722), E_GREEN, null, SERIES[0], 14.5, 9, 2.5);
    legendRow(ctx, dp(ch, 3.75, 1483), dp(ch, 3.865, 1483), E_ORANGE, null, SERIES[1], 14.5, 9, 2.5);
  }
});

// ================= PANEL LETTERS =================
(function () {
  const lc = document.getElementById('letters').getContext('2d');
  lc.font = '29px ' + FONT; lc.fillStyle = '#000'; lc.textBaseline = 'alphabetic';
  [['a', 17, 38], ['b', 1022, 37], ['c', 14, 375], ['d', 539, 375], ['e', 1027, 375]].forEach(([t, x, y]) => lc.fillText(t, x, y));
})();
</script>
</body></html>
